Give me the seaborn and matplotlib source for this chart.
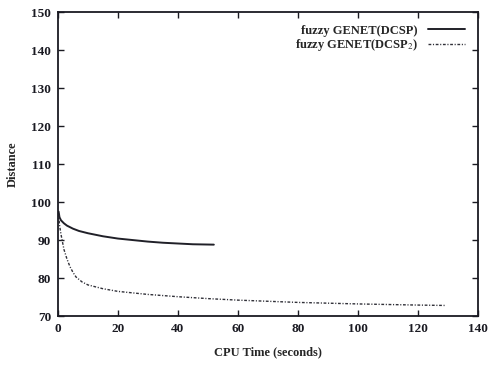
import matplotlib
matplotlib.use("Agg")
import matplotlib.pyplot as plt
import seaborn as sns
import pandas as pd

# Data
x_dcsp = [0.2, 0.5, 1, 2, 3, 5, 7, 10, 15, 20, 25, 30, 35, 40, 45, 52]
y_dcsp = [97.5, 96.0, 95.2, 94.4, 93.8, 93.0, 92.4, 91.8, 91.0, 90.4, 90.0, 89.6, 89.3, 89.1, 88.9, 88.8]

x_dcsp2 = [0.2, 0.5, 1, 1.5, 2, 3, 4, 5, 6, 8, 10, 15, 20, 30, 40, 50, 60, 80, 100, 120, 129]
y_dcsp2 = [97.0, 94.0, 91.5, 89.5, 87.5, 85.0, 83.0, 81.5, 80.3, 79.0, 78.2, 77.2, 76.5, 75.7, 75.1, 74.6, 74.2, 73.6, 73.2, 72.9, 72.8]

label1 = "fuzzy GENET(DCSP)"
label2 = "fuzzy GENET(DCSP$_2$)"
x_ticks = [0, 20, 40, 60, 80, 100, 120, 140]
y_ticks = [70, 80, 90, 100, 110, 120, 130, 140, 150]

sns.set_style("ticks")
plt.rcParams['font.family'] = ['Liberation Serif', 'DejaVu Serif']
plt.rcParams['mathtext.fontset'] = 'stix'

df1 = pd.DataFrame({"x": x_dcsp, "y": y_dcsp})
df2 = pd.DataFrame({"x": x_dcsp2, "y": y_dcsp2})

fig = plt.figure(figsize=(4.89, 3.65), dpi=100)
ax = fig.add_axes([0.1186, 0.134, 0.858, 0.833])

sns.lineplot(data=df1, x="x", y="y", ax=ax, color="#202028", linewidth=1.4, label=label1)
sns.lineplot(data=df2, x="x", y="y", ax=ax, color="#303038", linewidth=1.0,
             dashes=False, label=label2)
ax.lines[1].set_dashes((2.0, 1.2, 0.8, 1.2))

ax.set_xlim(0, 140)
ax.set_ylim(70, 150)
ax.set_xticks(x_ticks)
ax.set_yticks(y_ticks)
for s in ax.spines.values():
    s.set_visible(True)
    s.set_linewidth(1.3)
    s.set_color("#1a1a22")
ax.tick_params(direction="in", length=4, width=1, top=True, right=True,
               labelsize=9.5, pad=5, colors="#1a1a22")
for t in ax.get_xticklabels() + ax.get_yticklabels():
    t.set_fontweight("bold")

ax.set_xlabel("CPU Time (seconds)", fontsize=9, fontweight="bold", labelpad=8)
ax.set_ylabel("Distance", fontsize=9, fontweight="bold", labelpad=9)

leg = ax.legend(loc="upper right", frameon=False, markerfirst=False, fontsize=9,
                handlelength=3.0, borderaxespad=0.6, labelspacing=0.05,
                bbox_to_anchor=(1.0, 1.0))
for t in leg.get_texts():
    t.set_fontweight("bold")

fig.savefig("out.png", dpi=100)
